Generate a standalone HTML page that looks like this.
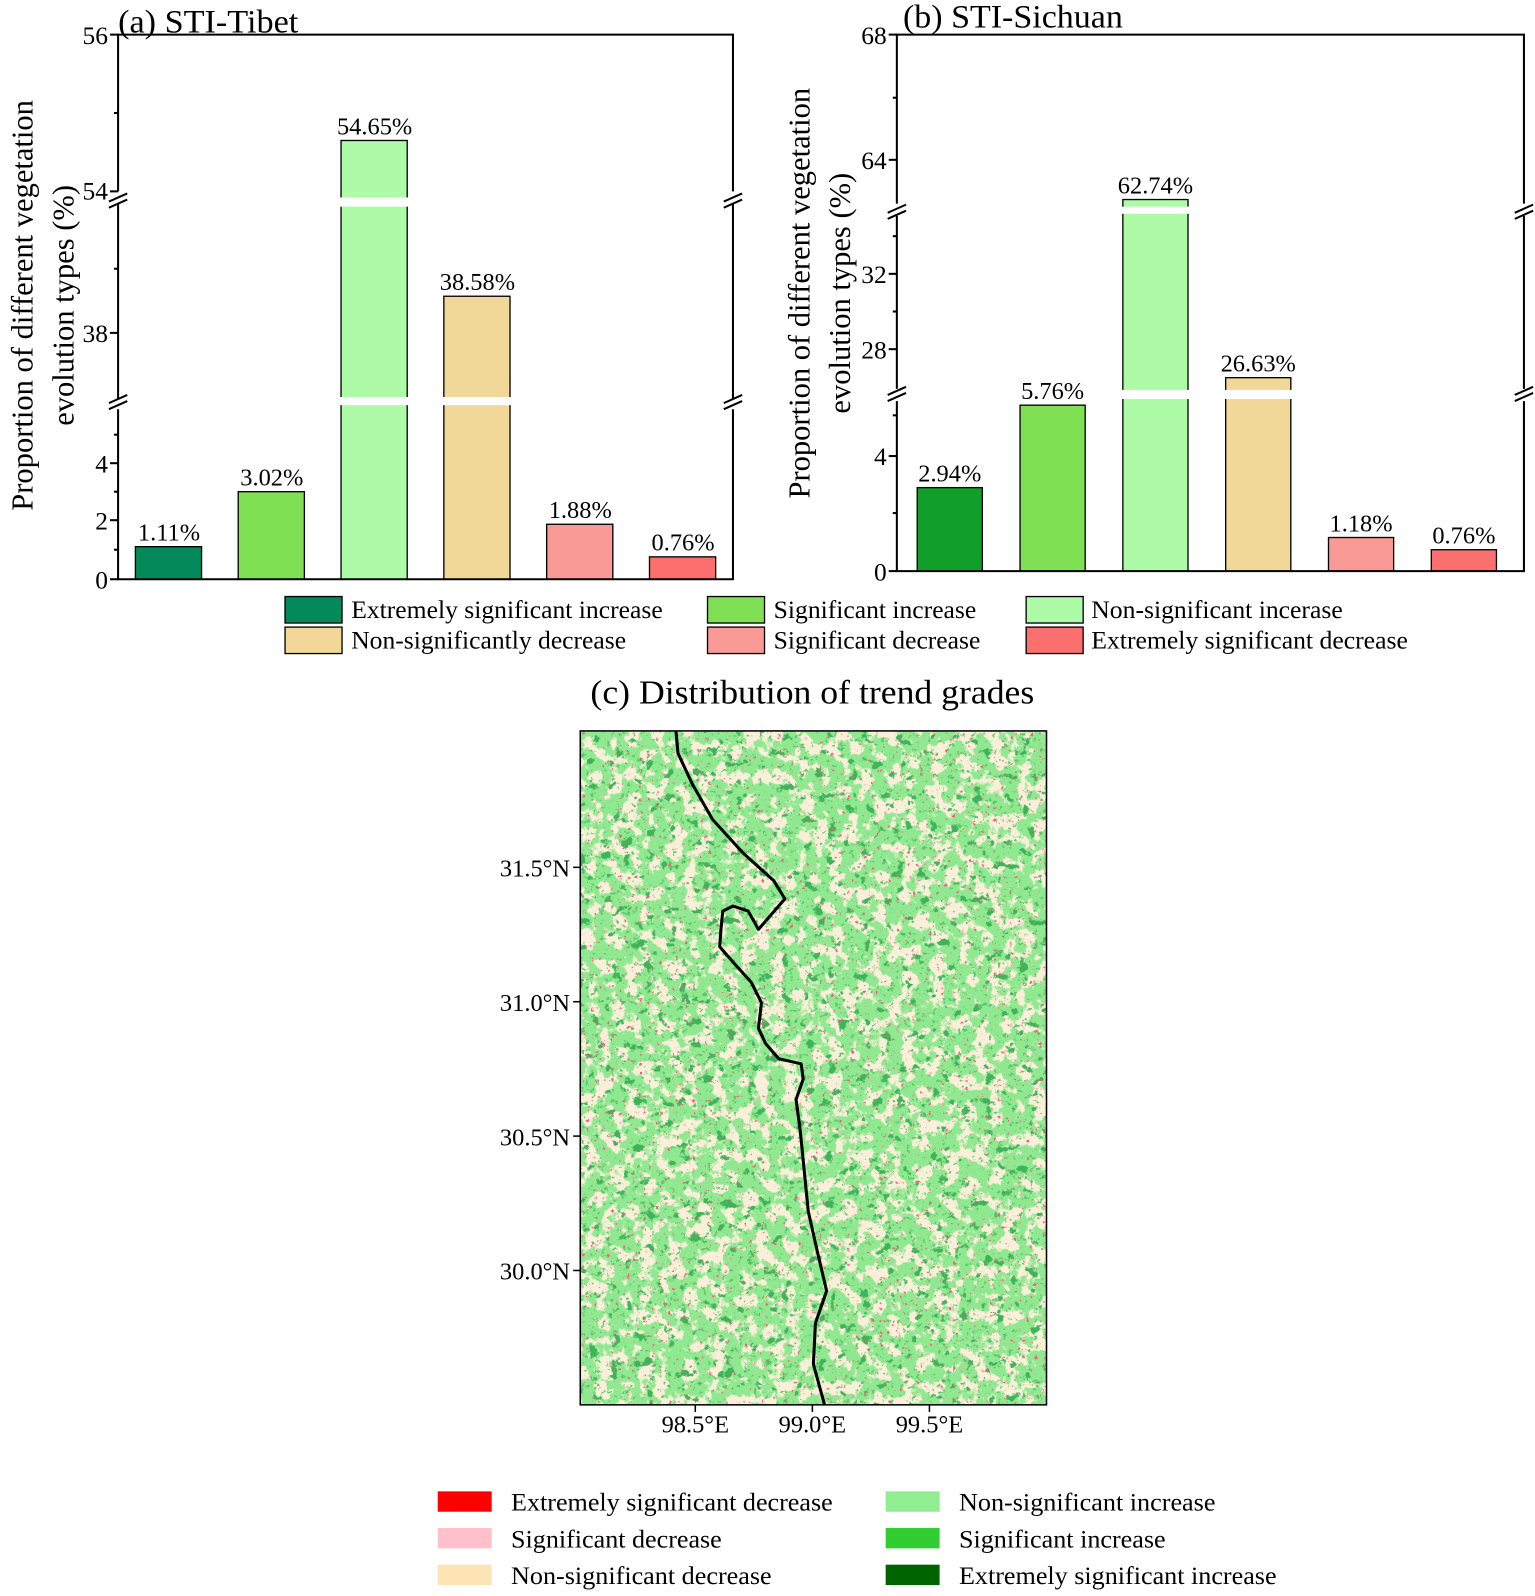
<!DOCTYPE html>
<html><head><meta charset="utf-8"><style>
html,body{margin:0;padding:0;background:#fff;overflow:hidden}
svg{display:block}
text{font-family:"Liberation Serif",serif;fill:#000}
</style></head><body>
<svg width="1535" height="1596" viewBox="0 0 1535 1596" xmlns="http://www.w3.org/2000/svg">
<defs>
<filter id="tan" x="0" y="0" width="100%" height="100%">
<feTurbulence type="fractalNoise" baseFrequency="0.07" numOctaves="5" seed="3"/>
<feColorMatrix type="matrix" values="0 0 0 0 0.96  0 0 0 0 0.87  0 0 0 0 0.70  12 0 0 0 -6.0"/>
</filter>
<filter id="dk" x="0" y="0" width="100%" height="100%">
<feTurbulence type="fractalNoise" baseFrequency="0.09" numOctaves="5" seed="11"/>
<feColorMatrix type="matrix" values="0 0 0 0 0.05  0 0 0 0 0.45  0 0 0 0 0.1  14 0 0 0 -9.2"/>
</filter>
<filter id="dk2" x="0" y="0" width="100%" height="100%">
<feTurbulence type="fractalNoise" baseFrequency="0.2" numOctaves="3" seed="5"/>
<feColorMatrix type="matrix" values="0 0 0 0 0.1  0 0 0 0 0.6  0 0 0 0 0.15  14 0 0 0 -9.4"/>
</filter>
<filter id="rd" x="0" y="0" width="100%" height="100%">
<feTurbulence type="fractalNoise" baseFrequency="0.25" numOctaves="3" seed="21"/>
<feColorMatrix type="matrix" values="0 0 0 0 0.95  0 0 0 0 0.1  0 0 0 0 0.2  22 0 0 0 -15.8"/>
</filter>
<clipPath id="mc"><rect x="570" y="718" width="458" height="662"/></clipPath>
</defs>
<g transform="scale(1.018)">
<!-- (a) -->
<text x="116" y="32" font-size="32" textLength="177" lengthAdjust="spacingAndGlyphs">(a) STI-Tibet</text>
<g stroke="#000" stroke-width="1.3">
<rect x="133" y="537" width="65" height="32" fill="#03895a"/>
<rect x="234" y="483" width="65" height="86" fill="#7ee052"/>
<rect x="335" y="138" width="65" height="431" fill="#adfba6"/>
<rect x="436" y="291" width="65" height="278" fill="#f2d898"/>
<rect x="537" y="515" width="65" height="54" fill="#fa9a96"/>
<rect x="638" y="547" width="65" height="22" fill="#fb706e"/>
</g>
<rect x="330" y="194" width="76" height="9" fill="#fff"/>
<rect x="330" y="390" width="176" height="8" fill="#fff"/>
<g stroke="#000" stroke-width="2" fill="none">
<polyline points="116,188 116,34 720,34 720,188"/>
<line x1="116" y1="200" x2="116" y2="392"/><line x1="720" y1="200" x2="720" y2="392"/>
<polyline points="116,402 116,569 720,569 720,402"/>
<line x1="107" y1="198" x2="125" y2="190"/><line x1="107" y1="204" x2="125" y2="196"/>
<line x1="711" y1="198" x2="729" y2="190"/><line x1="711" y1="204" x2="729" y2="196"/>
<line x1="107" y1="396" x2="125" y2="388"/><line x1="107" y1="402" x2="125" y2="394"/>
<line x1="711" y1="396" x2="729" y2="388"/><line x1="711" y1="402" x2="729" y2="394"/>
<line x1="108" y1="34" x2="116" y2="34"/><line x1="112" y1="111" x2="116" y2="111"/><line x1="108" y1="188" x2="116" y2="188"/>
<line x1="108" y1="327" x2="116" y2="327"/><line x1="112" y1="264" x2="116" y2="264"/>
<line x1="108" y1="455" x2="116" y2="455"/><line x1="108" y1="511" x2="116" y2="511"/><line x1="108" y1="569" x2="116" y2="569"/>
<line x1="112" y1="427" x2="116" y2="427"/><line x1="112" y1="483" x2="116" y2="483"/><line x1="112" y1="540" x2="116" y2="540"/>
</g>
<g font-size="25" text-anchor="end">
<text x="106" y="43">56</text><text x="106" y="196">54</text><text x="106" y="336">38</text>
<text x="106" y="464">4</text><text x="106" y="520">2</text><text x="106" y="578">0</text>
</g>
<g font-size="24" text-anchor="middle">
<text x="166" y="531">1.11%</text><text x="267" y="477">3.02%</text><text x="368" y="132">54.65%</text>
<text x="469" y="285">38.58%</text><text x="570" y="509">1.88%</text><text x="671" y="541">0.76%</text>
</g>
<text transform="translate(32,300) rotate(-90)" font-size="30" text-anchor="middle">Proportion of different vegetation</text>
<text transform="translate(72,300) rotate(-90)" font-size="30" text-anchor="middle">evolution types (%)</text>

<!-- (b) -->
<text x="887" y="27" font-size="32" textLength="216" lengthAdjust="spacingAndGlyphs">(b) STI-Sichuan</text>
<g stroke="#000" stroke-width="1.3">
<rect x="901" y="479" width="64" height="82" fill="#119f2a"/>
<rect x="1002" y="398" width="64" height="163" fill="#7ee052"/>
<rect x="1103" y="196" width="64" height="365" fill="#adfba6"/>
<rect x="1204" y="371" width="64" height="190" fill="#f2d898"/>
<rect x="1305" y="528" width="64" height="33" fill="#fa9a96"/>
<rect x="1406" y="540" width="64" height="21" fill="#fb706e"/>
</g>
<rect x="1098" y="203" width="76" height="7" fill="#fff"/>
<rect x="1098" y="383" width="176" height="9" fill="#fff"/>
<g stroke="#000" stroke-width="2" fill="none">
<polyline points="881,200 881,34 1497,34 1497,200"/>
<line x1="881" y1="212" x2="881" y2="382"/><line x1="1497" y1="212" x2="1497" y2="382"/>
<polyline points="881,394 881,561 1497,561 1497,394"/>
<line x1="872" y1="209" x2="890" y2="201"/><line x1="872" y1="215" x2="890" y2="207"/>
<line x1="1488" y1="209" x2="1506" y2="201"/><line x1="1488" y1="215" x2="1506" y2="207"/>
<line x1="872" y1="388" x2="890" y2="380"/><line x1="872" y1="394" x2="890" y2="386"/>
<line x1="1488" y1="388" x2="1506" y2="380"/><line x1="1488" y1="394" x2="1506" y2="386"/>
<line x1="873" y1="34" x2="881" y2="34"/><line x1="877" y1="96" x2="881" y2="96"/><line x1="873" y1="157" x2="881" y2="157"/>
<line x1="873" y1="269" x2="881" y2="269"/><line x1="877" y1="306" x2="881" y2="306"/><line x1="873" y1="343" x2="881" y2="343"/><line x1="877" y1="232" x2="881" y2="232"/>
<line x1="873" y1="448" x2="881" y2="448"/><line x1="877" y1="504" x2="881" y2="504"/><line x1="873" y1="561" x2="881" y2="561"/><line x1="877" y1="408" x2="881" y2="408"/>
</g>
<g font-size="25" text-anchor="end">
<text x="871" y="43">68</text><text x="871" y="166">64</text><text x="871" y="278">32</text>
<text x="871" y="352">28</text><text x="871" y="457">4</text><text x="871" y="570">0</text>
</g>
<g font-size="24" text-anchor="middle">
<text x="933" y="473">2.94%</text><text x="1034" y="392">5.76%</text><text x="1135" y="190">62.74%</text>
<text x="1236" y="365">26.63%</text><text x="1337" y="522">1.18%</text><text x="1438" y="534">0.76%</text>
</g>
<text transform="translate(795,288) rotate(-90)" font-size="30" text-anchor="middle">Proportion of different vegetation</text>
<text transform="translate(835,288) rotate(-90)" font-size="30" text-anchor="middle">evolution types (%)</text>

<!-- top legend -->
<g stroke="#000" stroke-width="1.3">
<rect x="280" y="586" width="56" height="26" fill="#03895a"/>
<rect x="695" y="586" width="56" height="26" fill="#7ee052"/>
<rect x="1008" y="586" width="56" height="26" fill="#adfba6"/>
<rect x="280" y="616" width="56" height="26" fill="#f2d898"/>
<rect x="695" y="616" width="56" height="26" fill="#fa9a96"/>
<rect x="1008" y="616" width="56" height="26" fill="#fb706e"/>
</g>
<g font-size="25">
<text x="345" y="607" textLength="306" lengthAdjust="spacingAndGlyphs">Extremely significant increase</text>
<text x="760" y="607" textLength="199" lengthAdjust="spacingAndGlyphs">Significant increase</text>
<text x="1072" y="607" textLength="247" lengthAdjust="spacingAndGlyphs">Non-significant incerase</text>
<text x="345" y="637" textLength="270" lengthAdjust="spacingAndGlyphs">Non-significantly decrease</text>
<text x="760" y="637" textLength="203" lengthAdjust="spacingAndGlyphs">Significant decrease</text>
<text x="1072" y="637" textLength="311" lengthAdjust="spacingAndGlyphs">Extremely significant decrease</text>
</g>

<!-- (c) map -->
<text x="798" y="691" font-size="33" text-anchor="middle" textLength="436" lengthAdjust="spacingAndGlyphs">(c) Distribution of trend grades</text>
<g clip-path="url(#mc)">
<rect x="570" y="718" width="458" height="662" fill="#90e890"/>
<rect x="570" y="718" width="458" height="662" filter="url(#tan)"/>
<rect x="570" y="718" width="458" height="662" filter="url(#dk2)"/>
<rect x="570" y="718" width="458" height="662" filter="url(#dk)"/>
<rect x="570" y="718" width="458" height="662" filter="url(#rd)"/>
<polyline fill="none" stroke="#000" stroke-width="3" stroke-linejoin="round" points="664,718 666,740 680,770 700,805 730,838 760,865 771,883 758,898 745,913 735,895 720,890 710,895 708,915 707,930 720,945 738,965 748,985 745,1010 752,1025 765,1040 787,1045 789,1060 782,1080 786,1110 790,1150 794,1190 803,1230 812,1268 801,1300 799,1340 810,1380"/>
</g>
<g stroke="#000" stroke-width="1.5" fill="none">
<rect x="570" y="718" width="458" height="662"/>
<line x1="563" y1="852" x2="570" y2="852"/><line x1="563" y1="984" x2="570" y2="984"/>
<line x1="563" y1="1116" x2="570" y2="1116"/><line x1="563" y1="1248" x2="570" y2="1248"/>
<line x1="683" y1="1380" x2="683" y2="1387"/><line x1="798" y1="1380" x2="798" y2="1387"/><line x1="913" y1="1380" x2="913" y2="1387"/>
</g>
<g font-size="24" text-anchor="end">
<text x="560" y="861">31.5°N</text><text x="560" y="993">31.0°N</text>
<text x="560" y="1125">30.5°N</text><text x="560" y="1257">30.0°N</text>
</g>
<g font-size="24" text-anchor="middle">
<text x="683" y="1407">98.5°E</text><text x="798" y="1407">99.0°E</text><text x="913" y="1407">99.5°E</text>
</g>

<!-- bottom legend -->
<rect x="430" y="1465" width="53" height="20" fill="#ff0000"/>
<rect x="430" y="1501" width="53" height="20" fill="#ffc0cb"/>
<rect x="430" y="1537" width="53" height="20" fill="#fde4b4"/>
<rect x="870" y="1465" width="53" height="20" fill="#90ee90"/>
<rect x="870" y="1501" width="53" height="20" fill="#32cd32"/>
<rect x="870" y="1537" width="53" height="20" fill="#006400"/>
<g font-size="25">
<text x="502" y="1484" textLength="316" lengthAdjust="spacingAndGlyphs">Extremely significant decrease</text>
<text x="502" y="1520" textLength="207" lengthAdjust="spacingAndGlyphs">Significant decrease</text>
<text x="502" y="1556" textLength="256" lengthAdjust="spacingAndGlyphs">Non-significant decrease</text>
<text x="942" y="1484" textLength="252" lengthAdjust="spacingAndGlyphs">Non-significant increase</text>
<text x="942" y="1520" textLength="203" lengthAdjust="spacingAndGlyphs">Significant increase</text>
<text x="942" y="1556" textLength="312" lengthAdjust="spacingAndGlyphs">Extremely significant increase</text>
</g>
</g>
</svg>
</body></html>
